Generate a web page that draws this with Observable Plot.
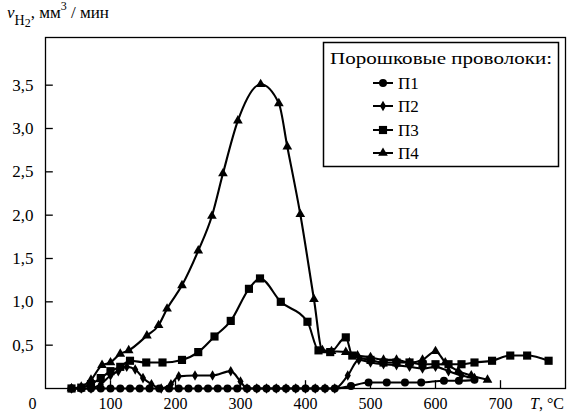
<!DOCTYPE html>
<html><head><meta charset="utf-8">
<script src="https://cdn.jsdelivr.net/npm/d3@7"></script>
<script src="https://cdn.jsdelivr.net/npm/@observablehq/plot@0.6"></script>
<style>body{margin:0;background:#fff}#c{position:relative;width:588px;height:414px}</style>
</head><body><div id="c"></div>
<script>
// Series: temperature T (°C) and hydrogen rate v (мм³/мин)
const p1T = [40,55,70,85,100,115,130,145,160,175,190,205,220,235,250,265,280,295,310,325,340,355,370,385,400,415,430,445,470,497,525,553,578,613,636,660];
const p1V = [0,0,0,0,0,0,0,0,0,0,0,0,0,0,0,0,0,0,0,0,0,0,0,0,0,0,0,0,0.03,0.07,0.07,0.07,0.07,0.09,0.09,0.1];
const p2T = [40,55,70,85,100,112,125,138,150,163,178,193,205,230,257,285,300,310,325,340,355,370,385,400,415,430,445,465,482,500,520,540,560,580,600,620,640,660];
const p2V = [0,0,0,0.05,0.15,0.2,0.25,0.22,0.12,0.05,0,0.05,0.14,0.15,0.15,0.2,0.08,0,0,0,0,0,0,0,0,0,0,0.15,0.33,0.3,0.28,0.27,0.25,0.23,0.25,0.2,0.15,0.12];
const p3T = [40,55,70,85,100,115,130,155,180,210,235,260,285,313,330,362,403,420,438,462,472,500,520,540,560,580,600,620,640,660,687,715,741,774];
const p3V = [0,0.01,0.05,0.12,0.2,0.25,0.32,0.3,0.3,0.33,0.42,0.6,0.78,1.15,1.27,1.0,0.77,0.44,0.42,0.59,0.38,0.33,0.3,0.3,0.3,0.28,0.28,0.28,0.28,0.3,0.32,0.38,0.38,0.32];
const p4T = [40,55,70,87,100,115,128,156,174,187,210,235,256,273,296,331,359,372,392,413,426,440,462,480,500,520,540,560,580,600,615,635,655,680];
const p4V = [0,0.02,0.1,0.27,0.3,0.4,0.44,0.61,0.73,0.92,1.19,1.59,1.99,2.48,3.09,3.51,3.29,2.79,2.01,1.03,0.44,0.43,0.42,0.38,0.36,0.33,0.33,0.3,0.33,0.43,0.3,0.2,0.15,0.1];

const seriesNames = ["П1","П2","П3","П4"];
const seriesSymbols = ["circle","diamond","square","triangle"];
const seriesR = [4,3.2,4.6,3.6];
const legendTitle = "Порошковые проволоки:";
const yTicks = [0.5,1,1.5,2,2.5,3,3.5];
const xTicks = [100,200,300,400,500,600,700];

const all = [[p1T,p1V],[p2T,p2V],[p3T,p3V],[p4T,p4V]];
const data = all.flatMap(([T,V],i)=>T.map((t,j)=>({T:t,v:V[j],s:seriesNames[i]})));

const font = "'Liberation Serif', 'DejaVu Serif', serif";
const marks = [
  Plot.frame({stroke:"black", strokeWidth:1.3}),
  Plot.ruleY(yTicks, {y:d=>d, x1:0, x2:12, stroke:"black", strokeWidth:1.3}),
  Plot.ruleX(xTicks, {x:d=>d, y1:0, y2:0.09, stroke:"black", strokeWidth:1.3}),
  Plot.axisY(yTicks, {tickSize:0, tickPadding:12, tickFormat:d=>d.toFixed(1).replace(".",","), fontSize:17, label:null}),
  Plot.axisX(xTicks, {tickSize:0, tickPadding:9, tickFormat:d=>String(d), fontSize:16, label:null}),
  Plot.text(["0"], {x:0, y:0, text:d=>d, dx:-13, dy:15, fontSize:16})
];
seriesNames.forEach((name,i)=>{
  const d = data.filter(e=>e.s===name);
  marks.push(Plot.line(d, {x:"T", y:"v", stroke:"black", strokeWidth:2.1, curve:"monotone-x"}));
  marks.push(Plot.dot(d, {x:"T", y:"v", symbol:()=>seriesSymbols[i], r:seriesR[i], fill:"black", stroke:"none"}));
});

const chart = Plot.plot({
  width:588, height:414,
  marginTop:37, marginRight:23, marginBottom:26, marginLeft:45,
  x:{domain:[0,800], label:null}, y:{domain:[0,4.05], label:null},
  symbol:{type:"identity"},
  style:{fontFamily:font, fontSize:"17px", color:"black", background:"white"},
  marks
});
document.getElementById("c").appendChild(chart);

const svg = d3.select(chart);
// y-axis title
const t = svg.append("text").attr("x",7).attr("y",18).attr("text-anchor","start").attr("font-family",font).attr("font-size",17).attr("fill","black");
t.append("tspan").attr("font-style","italic").text("v");
t.append("tspan").attr("dy",7).attr("font-size",14).text("H");
t.append("tspan").attr("dy",2).attr("font-size",12).text("2");
t.append("tspan").attr("dy",-9).text(", мм");
t.append("tspan").attr("dy",-8).attr("font-size",12).text("3");
t.append("tspan").attr("dy",8).text(" / мин");
// x-axis title
const xt = svg.append("text").attr("x",530).attr("y",409).attr("text-anchor","start").attr("font-family",font).attr("font-size",16).attr("fill","black");
xt.append("tspan").attr("font-style","italic").text("T");
xt.append("tspan").text(", °C");
// legend
const lg = svg.append("g").attr("text-anchor","start");
lg.append("rect").attr("x",323.5).attr("y",42.5).attr("width",235).attr("height",124).attr("fill","white").attr("stroke","black").attr("stroke-width",1.5);
lg.append("text").attr("x",330).attr("y",64).attr("font-family",font).attr("font-size",17).attr("textLength",222).attr("lengthAdjust","spacingAndGlyphs").text(legendTitle);
const symMap = {circle:d3.symbolCircle, diamond:d3.symbolDiamond, square:d3.symbolSquare, triangle:d3.symbolTriangle};
const ys = [83,106,130,153];
seriesNames.forEach((name,i)=>{
  lg.append("line").attr("x1",373).attr("x2",393).attr("y1",ys[i]).attr("y2",ys[i]).attr("stroke","black").attr("stroke-width",2);
  lg.append("path").attr("transform",`translate(383,${ys[i]})`).attr("d",d3.symbol(symMap[seriesSymbols[i]], Math.PI*seriesR[i]*seriesR[i])()).attr("fill","black");
  lg.append("text").attr("x",398).attr("y",ys[i]+6).attr("font-family",font).attr("font-size",17).text(name);
});
</script></body></html>
